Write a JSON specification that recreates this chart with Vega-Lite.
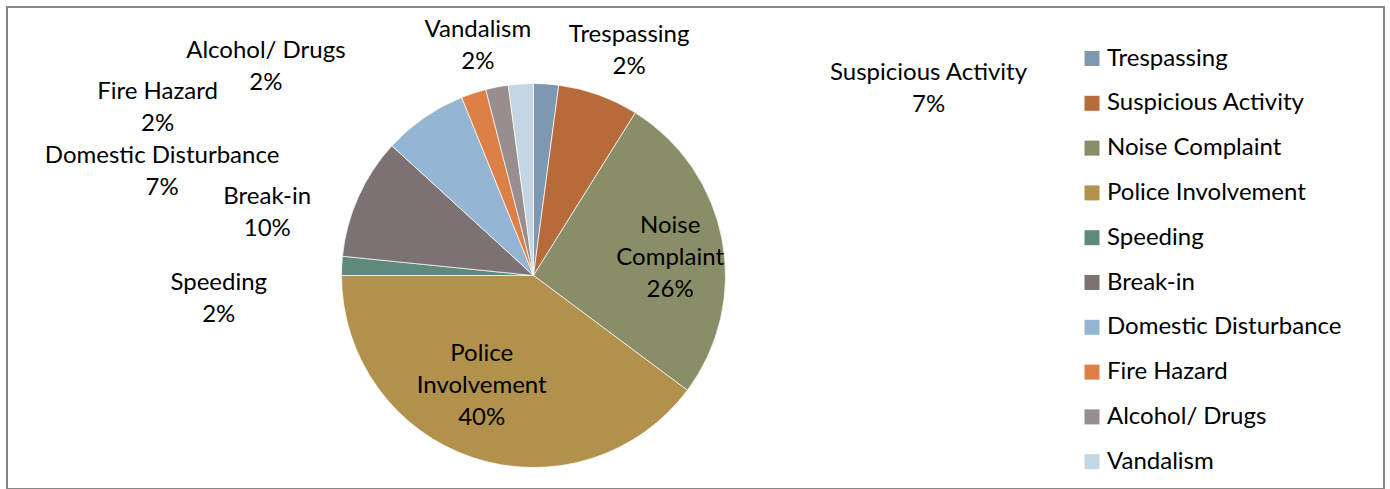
{
  "$schema": "https://vega.github.io/schema/vega-lite/v6.json",
  "width": 1377,
  "height": 482,
  "padding": {"left": 7, "top": 7, "right": 6, "bottom": 0},
  "autosize": {"type": "none"},
  "background": "#ffffff",
  "view": {"stroke": "#878787", "strokeWidth": 2},
  "config": {
    "view": {"stroke": "#878787", "strokeWidth": 2},
    "text": {"font": "Lato", "fontSize": 24, "lineHeight": 32, "color": "#000000", "align": "center", "baseline": "middle", "lineBreak": "\n"}
  },
  "data": {
    "values": [
      {"category": "Trespassing", "value": 2.1},
      {"category": "Suspicious Activity", "value": 6.8},
      {"category": "Noise Complaint", "value": 26.3},
      {"category": "Police Involvement", "value": 39.8},
      {"category": "Speeding", "value": 1.6},
      {"category": "Break-in", "value": 10.2},
      {"category": "Domestic Disturbance", "value": 7.1},
      {"category": "Fire Hazard", "value": 2.1},
      {"category": "Alcohol/ Drugs", "value": 1.9},
      {"category": "Vandalism", "value": 2.1}
    ]
  },
  "transform": [
    {"window": [{"op": "row_number", "as": "idx"}]},
    {"window": [{"op": "sum", "field": "value", "as": "cum"}], "sort": [{"field": "idx"}], "frame": [null, 0]},
    {"calculate": "datum.cum - datum.value / 2", "as": "mid"},
    {"calculate": "datum.category + '\\n' + format(datum.value / 100, '.0%')", "as": "label"},
    {"calculate": "replace(datum.category, ' ', '\\n') + '\\n' + format(datum.value / 100, '.0%')", "as": "labelWrapped"}
  ],
  "resolve": {"scale": {"theta": "independent"}},
  "layer": [
    {
      "mark": {"type": "arc", "outerRadius": 192, "x": 526.5, "y": 268.5, "stroke": "#ffffff", "strokeWidth": 0.7},
      "encoding": {
        "theta": {"field": "value", "type": "quantitative", "stack": true},
        "order": {"field": "idx", "type": "quantitative"},
        "color": {
          "field": "category",
          "type": "nominal",
          "scale": {
            "domain": ["Trespassing", "Suspicious Activity", "Noise Complaint", "Police Involvement", "Speeding", "Break-in", "Domestic Disturbance", "Fire Hazard", "Alcohol/ Drugs", "Vandalism"],
            "range": ["#7D98B0", "#B86B3A", "#8A8E68", "#B2914C", "#5E8A7E", "#7D7272", "#94B6D2", "#DD8047", "#998E8E", "#C4D5E4"]
          },
          "legend": {
            "title": null,
            "orient": "none",
            "legendX": 1073,
            "legendY": 39.5,
            "symbolType": "square",
            "symbolSize": 225,
            "symbolStrokeWidth": 0,
            "labelFont": "Lato",
            "labelFontSize": 24,
            "labelColor": "#000000",
            "labelOffset": 3,
            "rowPadding": 20.8,
            "padding": 0,
            "labelLimit": 400
          }
        }
      }
    },
    {
      "transform": [{"filter": "datum.category == 'Noise Complaint'"}],
      "mark": {"type": "text", "x": 526.5, "y": 268.5, "radius": 138, "dx": 1, "dy": -24},
      "encoding": {"theta": {"field": "mid", "type": "quantitative", "stack": false, "scale": {"domain": [0, 100]}}, "text": {"field": "labelWrapped"}}
    },
    {
      "transform": [{"filter": "datum.category == 'Police Involvement'"}],
      "mark": {"type": "text", "x": 526.5, "y": 268.5, "radius": 120, "dx": -14, "dy": -35},
      "encoding": {"theta": {"field": "mid", "type": "quantitative", "stack": false, "scale": {"domain": [0, 100]}}, "text": {"field": "labelWrapped"}}
    },
    {
      "transform": [{"filter": "datum.category == 'Vandalism'"}],
      "mark": {"type": "text", "x": 526.5, "y": 268.5, "radius": 192, "dx": -43, "dy": -54},
      "encoding": {"theta": {"field": "mid", "type": "quantitative", "stack": false, "scale": {"domain": [0, 100]}}, "text": {"field": "label"}}
    },
    {
      "transform": [{"filter": "datum.category == 'Trespassing'"}],
      "mark": {"type": "text", "x": 526.5, "y": 268.5, "radius": 192, "dx": 83, "dy": -49},
      "encoding": {"theta": {"field": "mid", "type": "quantitative", "stack": false, "scale": {"domain": [0, 100]}}, "text": {"field": "label"}}
    },
    {
      "transform": [{"filter": "datum.category == 'Suspicious Activity'"}],
      "mark": {"type": "text", "x": 526.5, "y": 268.5, "radius": 192, "dx": 330, "dy": -22},
      "encoding": {"theta": {"field": "mid", "type": "quantitative", "stack": false, "scale": {"domain": [0, 100]}}, "text": {"field": "label"}}
    },
    {
      "transform": [{"filter": "datum.category == 'Speeding'"}],
      "mark": {"type": "text", "x": 526.5, "y": 268.5, "radius": 192, "dx": -123, "dy": 17},
      "encoding": {"theta": {"field": "mid", "type": "quantitative", "stack": false, "scale": {"domain": [0, 100]}}, "text": {"field": "label"}}
    },
    {
      "transform": [{"filter": "datum.category == 'Break-in'"}],
      "mark": {"type": "text", "x": 526.5, "y": 268.5, "radius": 192, "dx": -91, "dy": 0},
      "encoding": {"theta": {"field": "mid", "type": "quantitative", "stack": false, "scale": {"domain": [0, 100]}}, "text": {"field": "label"}}
    },
    {
      "transform": [{"filter": "datum.category == 'Domestic Disturbance'"}],
      "mark": {"type": "text", "x": 526.5, "y": 268.5, "radius": 192, "dx": -262, "dy": 38},
      "encoding": {"theta": {"field": "mid", "type": "quantitative", "stack": false, "scale": {"domain": [0, 100]}}, "text": {"field": "label"}}
    },
    {
      "transform": [{"filter": "datum.category == 'Fire Hazard'"}],
      "mark": {"type": "text", "x": 526.5, "y": 268.5, "radius": 192, "dx": -316, "dy": -1},
      "encoding": {"theta": {"field": "mid", "type": "quantitative", "stack": false, "scale": {"domain": [0, 100]}}, "text": {"field": "label"}}
    },
    {
      "transform": [{"filter": "datum.category == 'Alcohol/ Drugs'"}],
      "mark": {"type": "text", "x": 526.5, "y": 268.5, "radius": 192, "dx": -231, "dy": -36},
      "encoding": {"theta": {"field": "mid", "type": "quantitative", "stack": false, "scale": {"domain": [0, 100]}}, "text": {"field": "label"}}
    }
  ]
}
